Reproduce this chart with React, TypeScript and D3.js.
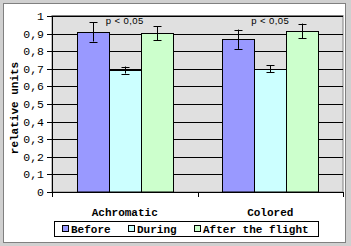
import React from "react";
import * as d3 from "d3";

const categories = ["Achromatic", "Colored"];
const seriesNames = ["Before", "During", "After the flight"];
const seriesColors = ["#9999ff", "#ccffff", "#ccffcc"];
const beforeValues = [0.91, 0.868];
const duringValues = [0.693, 0.70];
const afterValues = [0.902, 0.915];
const beforeErrors = [0.055, 0.055];
const duringErrors = [0.02, 0.02];
const afterErrors = [0.04, 0.042];
const yTicks = [0, 0.1, 0.2, 0.3, 0.4, 0.5, 0.6, 0.7, 0.8, 0.9, 1];
const annotations = ["p < 0,05", "p < 0,05"];

const W = 351;
const H = 246;
const plot = { left: 52, right: 343, top: 16, bottom: 192 };

export default function App() {
  const values = [beforeValues, duringValues, afterValues];
  const errors = [beforeErrors, duringErrors, afterErrors];
  const x0 = d3.scaleBand<string>().domain(categories).range([plot.left, plot.right]).paddingInner(0).paddingOuter(0);
  const groupW = 96;
  const x1 = d3.scaleBand<number>().domain([0, 1, 2]).range([0, groupW]).padding(0);
  const y = d3.scaleLinear().domain([0, 1]).range([plot.bottom, plot.top]);
  const fmt = (v: number) => (v === 0 || v === 1 ? String(v) : d3.format(".1f")(v).replace(".", ","));
  const monoStyle = { fontFamily: "Liberation Mono, Courier New, DejaVu Sans Mono, monospace" };

  return (
    <svg width={W} height={H} style={{ position: "absolute", left: 0, top: 0 }} xmlns="http://www.w3.org/2000/svg">
      <rect x={0} y={0} width={W} height={H} fill="#d0d0d0" />
      <rect x={3.5} y={3.5} width={342} height={239} fill="#ffffff" stroke="#808080" strokeWidth={1} />
      <rect x={plot.left} y={plot.top - 0.5} width={plot.right - plot.left} height={plot.bottom - plot.top + 0.5} fill="#e0e0e0" stroke="#808080" strokeWidth={1} />
      {yTicks.slice(1).map((t) => (
        <line key={"g" + t} x1={plot.left} x2={plot.right} y1={Math.round(y(t)) + 0.5} y2={Math.round(y(t)) + 0.5} stroke="#000" strokeWidth={1} />
      ))}
      {categories.map((c, ci) => {
        const gx = (x0(c) as number) + (x0.bandwidth() - groupW) / 2;
        return (
          <g key={c}>
            {values.map((vals, si) => {
              const bx = Math.round(gx + (x1(si) as number)) + 0.5;
              const by = Math.round(y(vals[ci])) + 0.5;
              return (
                <rect key={si} x={bx} y={by} width={x1.bandwidth()} height={plot.bottom - by} fill={seriesColors[si]} stroke="#000" strokeWidth={1} />
              );
            })}
            {values.map((vals, si) => {
              const cx = Math.round(gx + (x1(si) as number) + x1.bandwidth() / 2) + 0.5;
              const yt = y(vals[ci] + errors[si][ci]);
              const yb = y(vals[ci] - errors[si][ci]);
              return (
                <g key={"e" + si} stroke="#000" strokeWidth={1}>
                  <line x1={cx} x2={cx} y1={yt} y2={yb} />
                  <line x1={cx - 4} x2={cx + 4} y1={Math.round(yt) + 0.5} y2={Math.round(yt) + 0.5} />
                  <line x1={cx - 4} x2={cx + 4} y1={Math.round(yb) + 0.5} y2={Math.round(yb) + 0.5} />
                </g>
              );
            })}
            <text x={gx + groupW / 2} y={24} textAnchor="middle" style={{ fontFamily: "Liberation Sans, Arial, sans-serif", letterSpacing: "0.4px" }} fontSize={9.5} fill="#000">
              {annotations[ci]}
            </text>
            <text x={(x0(c) as number) + x0.bandwidth() / 2} y={216} textAnchor="middle" style={monoStyle} fontWeight="bold" fontSize={11} fill="#000">
              {c}
            </text>
          </g>
        );
      })}
      {/* y axis */}
      <line x1={plot.left + 0.5} x2={plot.left + 0.5} y1={plot.top} y2={plot.bottom + 4} stroke="#000" />
      {yTicks.map((t) => (
        <g key={"t" + t}>
          <line x1={plot.left - 5} x2={plot.left} y1={Math.round(y(t)) + 0.5} y2={Math.round(y(t)) + 0.5} stroke="#000" />
          <text x={plot.left - 8} y={y(t) + 4} textAnchor="end" style={monoStyle} fontSize={11.5} fill="#000">
            {fmt(t)}
          </text>
        </g>
      ))}
      {/* x axis */}
      <line x1={plot.left} x2={plot.right + 0.5} y1={plot.bottom + 0.5} y2={plot.bottom + 0.5} stroke="#000" />
      {[...categories.map((c) => x0(c) as number), plot.right].map((tx, i) => (
        <line key={"xt" + i} x1={Math.round(tx) + 0.5} x2={Math.round(tx) + 0.5} y1={plot.bottom} y2={plot.bottom + 5} stroke="#000" />
      ))}
      <text transform={`translate(18,108) rotate(-90)`} textAnchor="middle" style={monoStyle} fontWeight="bold" fontSize={11} fill="#000">
        relative units
      </text>
      {/* legend */}
      <rect x={54.5} y={221.5} width={264} height={15} fill="#fff" stroke="#000" strokeWidth={1} />
      {seriesNames.map((n, i) => {
        const lx = [62, 128, 194][i];
        return (
          <g key={n}>
            <rect x={lx + 0.5} y={225.5} width={6} height={6} fill={seriesColors[i]} stroke="#000" />
            <text x={lx + 9} y={233} style={monoStyle} fontWeight="bold" fontSize={11} fill="#000">
              {n}
            </text>
          </g>
        );
      })}
    </svg>
  );
}
